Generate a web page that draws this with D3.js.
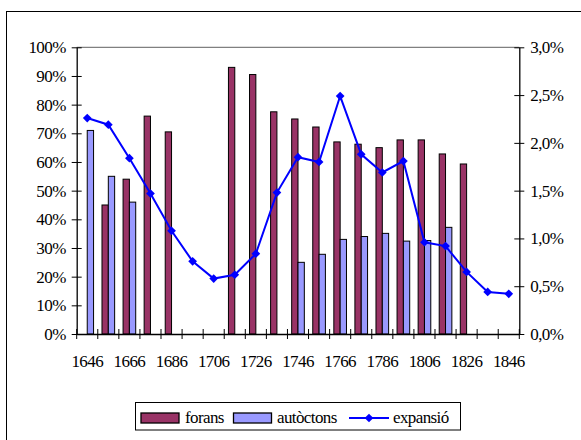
<!DOCTYPE html>
<html><head><meta charset="utf-8">
<script src="https://cdn.jsdelivr.net/npm/d3@7"></script>
<style>
html,body{margin:0;padding:0;background:#fff;}
</style></head>
<body>
<svg id="c" width="581" height="440"></svg>
<script>
const years = [1646,1656,1666,1676,1686,1696,1706,1716,1726,1736,1746,1756,1766,1776,1786,1796,1806,1816,1826,1836,1846];
const forans = [null,45,54,76,70.5,null,null,93,90.5,77.5,75,72.2,67,66.2,65,67.7,67.7,62.8,59.3,null,null];
const autoctons = [71,55,46,null,null,null,null,null,null,null,25,27.8,33,34,35.1,32.4,32.6,37.2,null,null,null];
const expansio = [2.26,2.19,1.84,1.47,1.08,0.76,0.58,0.62,0.84,1.48,1.85,1.80,2.49,1.88,1.69,1.81,0.96,0.92,0.65,0.44,0.42];
const leftTicks = [0,10,20,30,40,50,60,70,80,90,100];
const rightTicks = [0,0.5,1.0,1.5,2.0,2.5,3.0];
const seriesNames = ["forans","autòctons","expansió"];
const colors = {forans:"#993366", autoctons:"#9999FF", line:"#0000FF"};

const FONT = '"Liberation Serif"';
const styleText = sel => sel.style("font-family",FONT).style("font-size","17px").style("letter-spacing","-0.6px").style("fill","#000");

const svg = d3.select("#c");
const L = 76.7, R = 519.3, T = 47.3, B = 334;

// outer frame
svg.append("rect").attr("x",6.5).attr("y",11.5).attr("width",600).attr("height",500)
  .attr("fill","none").attr("stroke","#000").attr("stroke-width",1);

const x = d3.scaleBand().domain(years).range([L,R]).paddingInner(0).paddingOuter(0);
const yL = d3.scaleLinear().domain([0,100]).range([B,T]);
const yR = d3.scaleLinear().domain([0,3]).range([B,T]);
const bw = x.bandwidth()*0.3;
const cx = d => x(d) + x.bandwidth()/2;

// top border of plot area (gray)
svg.append("line").attr("x1",L).attr("x2",R).attr("y1",T).attr("y2",T)
  .attr("stroke","#808080").attr("stroke-width",1.3);

// bars
const fData = years.map((y,i)=>({y,v:forans[i]})).filter(d=>d.v!=null);
const aData = years.map((y,i)=>({y,v:autoctons[i]})).filter(d=>d.v!=null);
svg.append("g").selectAll("rect").data(fData).join("rect")
  .attr("x",d=>cx(d.y)-bw).attr("y",d=>yL(d.v)).attr("width",bw).attr("height",d=>B-yL(d.v))
  .attr("fill",colors.forans).attr("stroke","#000").attr("stroke-width",1);
svg.append("g").selectAll("rect").data(aData).join("rect")
  .attr("x",d=>cx(d.y)).attr("y",d=>yL(d.v)).attr("width",bw).attr("height",d=>B-yL(d.v))
  .attr("fill",colors.autoctons).attr("stroke","#000").attr("stroke-width",1);

// axes
const fmtL = d => d + "%";
const fmtR = d => d3.format(".1f")(d).replace(".",",") + "%";
const gL = svg.append("g").attr("transform",`translate(${L},0)`)
  .call(d3.axisLeft(yL).tickValues(leftTicks).tickFormat(fmtL).tickSizeInner(5).tickSizeOuter(0).tickPadding(6));
const gR = svg.append("g").attr("transform",`translate(${R},0)`)
  .call(d3.axisRight(yR).tickValues(rightTicks).tickFormat(fmtR).tickSizeInner(5).tickSizeOuter(0).tickPadding(6));
const gX = svg.append("g").attr("transform",`translate(0,${B})`)
  .call(d3.axisBottom(x).tickValues(years.filter((d,i)=>i%2===0)).tickSize(0).tickPadding(21));
[gL,gR,gX].forEach(g=>{
  g.select(".domain").attr("stroke","#000").attr("stroke-width",1.3);
  g.selectAll("text").call(styleText);
});
// crossing ticks
gL.selectAll(".tick line").attr("x1",-5).attr("x2",5).attr("stroke","#000");
gR.selectAll(".tick line").attr("x1",-5).attr("x2",5).attr("stroke","#000");
// x boundary ticks
const bounds = years.map(d=>x(d)).concat([R]);
svg.append("g").selectAll("line").data(bounds).join("line")
  .attr("x1",d=>d).attr("x2",d=>d).attr("y1",B-5).attr("y2",B+5).attr("stroke","#000");

// line
const pts = years.map((y,i)=>({y,v:expansio[i]}));
svg.append("path").datum(pts)
  .attr("d",d3.line().x(d=>cx(d.y)).y(d=>yR(d.v)))
  .attr("fill","none").attr("stroke",colors.line).attr("stroke-width",2);
svg.append("g").selectAll("path").data(pts).join("path")
  .attr("d",d3.symbol().type(d3.symbolSquare).size(38))
  .attr("transform",d=>`translate(${cx(d.y)},${yR(d.v)}) rotate(45)`)
  .attr("fill",colors.line);

// legend
const lg = svg.append("g");
lg.append("rect").attr("x",135.5).attr("y",402.5).attr("width",325).attr("height",27.5)
  .attr("fill","#fff").attr("stroke","#000").attr("stroke-width",1);
lg.append("rect").attr("x",141).attr("y",413).attr("width",38).attr("height",10)
  .attr("fill",colors.forans).attr("stroke","#000").attr("stroke-width",1.3);
lg.append("text").attr("x",185).attr("y",423).text(seriesNames[0]).call(styleText);
lg.append("rect").attr("x",233.5).attr("y",413).attr("width",38).attr("height",10)
  .attr("fill",colors.autoctons).attr("stroke","#000").attr("stroke-width",1.3);
lg.append("text").attr("x",277).attr("y",423).text(seriesNames[1]).call(styleText);
lg.append("line").attr("x1",349).attr("x2",389).attr("y1",418).attr("y2",418).attr("stroke",colors.line).attr("stroke-width",2);
lg.append("path").attr("d",d3.symbol().type(d3.symbolSquare).size(38)).attr("transform","translate(369,418) rotate(45)").attr("fill",colors.line);
lg.append("text").attr("x",393).attr("y",423).text(seriesNames[2]).call(styleText);
</script>
</body></html>
